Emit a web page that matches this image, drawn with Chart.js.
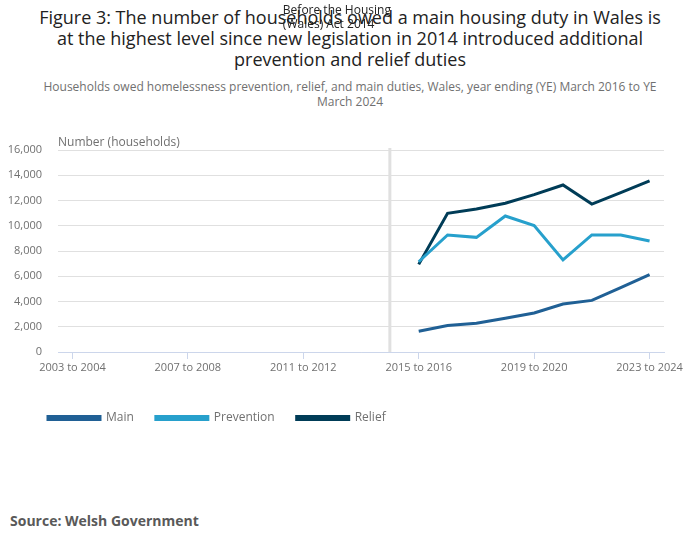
<!DOCTYPE html>
<html>
<head>
<meta charset="utf-8">
<script src="https://cdn.jsdelivr.net/npm/chart.js@4"></script>
<style>
  body { margin: 0; width: 700px; height: 549px; position: relative; background: #fff; font-family: "Open Sans", sans-serif; overflow: hidden; }
  #title { position: absolute; top: 7px; left: 30px; width: 640px; text-align: center; font-size: 18px; line-height: 21px; color: #222; }
  #subtitle { position: absolute; top: 79px; left: 30px; width: 640px; text-align: center; font-size: 12px; line-height: 15px; color: #707070; }
  #source { position: absolute; top: 511px; left: 10px; font-size: 14px; font-weight: bold; color: #595959; }
  #wrap { position: absolute; top: 0; left: 0; width: 700px; height: 549px; }
</style>
</head>
<body>
<div id="title">Figure 3: The number of households owed a main housing duty in Wales is at the highest level since new legislation in 2014 introduced additional prevention and relief duties</div>
<div id="subtitle">Households owed homelessness prevention, relief, and main duties, Wales, year ending (YE) March 2016 to YE March 2024</div>
<div id="source">Source: Welsh Government</div>
<div id="wrap"><canvas id="chart"></canvas></div>
<script>
// các năm tài chính, 2003 to 2004 ... 2023 to 2024
const years = [];
for (let y = 2003; y <= 2023; y++) {
  years.push(y + ' to ' + (y + 1));
}

// số liệu chỉ có từ 2015 to 2016 trở đi
const mainDuty = [null, null, null, null, null, null, null, null, null, null, null, null,
  1650, 2090, 2270, 2670, 3090, 3800, 4090, 5100, 6130];
const prevention = [null, null, null, null, null, null, null, null, null, null, null, null,
  7150, 9270, 9080, 10770, 10010, 7290, 9270, 9270, 8790];
const relief = [null, null, null, null, null, null, null, null, null, null, null, null,
  6940, 10980, 11330, 11780, 12460, 13230, 11720, 12620, 13550];

const yTicks = [0, 2000, 4000, 6000, 8000, 10000, 12000, 14000, 16000];
const actIndex = 11; // 2014 to 2015
const actLabel = ['Before the Housing', '(Wales) Act 2014'];

// vẽ đường dọc đánh dấu luật 2014 và nhãn trục y
const plotLinePlugin = {
  id: 'plotLine',
  afterLayout(chart) {
    // đẩy chú thích sang phải cho khớp với hình gốc
    chart.legend.left += 20;
    chart.legend.right += 20;
  },
  beforeDatasetsDraw(chart) {
    const ctx = chart.ctx;
    const area = chart.chartArea;
    const x = chart.scales.x.getPixelForValue(actIndex);
    ctx.save();
    ctx.strokeStyle = '#e0e0e0';
    ctx.lineWidth = 3;
    ctx.beginPath();
    ctx.moveTo(x, area.top - 2);
    ctx.lineTo(x, area.bottom);
    ctx.stroke();
    ctx.restore();
  },
  afterDraw(chart) {
    const ctx = chart.ctx;
    const area = chart.chartArea;
    const x = chart.scales.x.getPixelForValue(actIndex);
    ctx.save();
    ctx.fillStyle = '#222';
    ctx.font = '12px "Open Sans"';
    ctx.textAlign = 'left';
    ctx.textBaseline = 'middle';
    ctx.fillText(actLabel[0], x - 107, 11);
    ctx.fillText(actLabel[1], x - 107, 25);
    ctx.fillStyle = '#707070';
    ctx.fillText('Number (households)', area.left, area.top - 7);
    ctx.restore();
  }
};

const makeSet = (label, data, color) => ({
  label: label,
  data: data,
  borderColor: color,
  backgroundColor: color,
  borderWidth: 3,
  pointRadius: 0,
  pointHoverRadius: 0,
  tension: 0,
  fill: false
});

new Chart(document.getElementById('chart'), {
  type: 'line',
  data: {
    labels: years,
    datasets: [
      makeSet('Main', mainDuty, '#206095'),
      makeSet('Prevention', prevention, '#27a0cc'),
      makeSet('Relief', relief, '#003c57')
    ]
  },
  options: {
    responsive: true,
    maintainAspectRatio: false,
    animation: false,
    layout: { padding: { top: 150, left: 6, right: 36, bottom: 115 } },
    plugins: {
      legend: {
        position: 'bottom',
        align: 'start',
        labels: {
          boxWidth: 52,
          boxHeight: 3,
          padding: 22,
          color: '#707070',
          font: { family: 'Open Sans', size: 12 }
        }
      },
      tooltip: { enabled: false }
    },
    scales: {
      x: {
        offset: true,
        grid: { drawOnChartArea: false, drawTicks: true, tickLength: 7, color: '#ccd6eb' },
        border: { color: '#ccd6eb' },
        ticks: {
          autoSkip: false,
          maxRotation: 0,
          padding: 2,
          color: '#707070',
          font: { family: 'Open Sans', size: 11 },
          callback: function (val, i) { return i % 4 === 0 ? years[i] : null; }
        },
        afterFit: function (scale) {
          scale.height = 38;
          scale.paddingLeft = 0;
          scale.paddingRight = 0;
        }
      },
      y: {
        min: 0,
        max: 16000,
        afterBuildTicks: function (scale) { scale.ticks = yTicks.map(v => ({ value: v })); },
        grid: { color: '#e0e0e0', drawTicks: false },
        border: { display: false },
        ticks: {
          padding: 16,
          color: '#707070',
          font: { family: 'Open Sans', size: 11 },
          callback: function (v) { return v.toLocaleString('en-GB'); }
        },
        afterFit: function (scale) { scale.width = 52; }
      }
    }
  },
  plugins: [plotLinePlugin]
});
</script>
</body>
</html>
